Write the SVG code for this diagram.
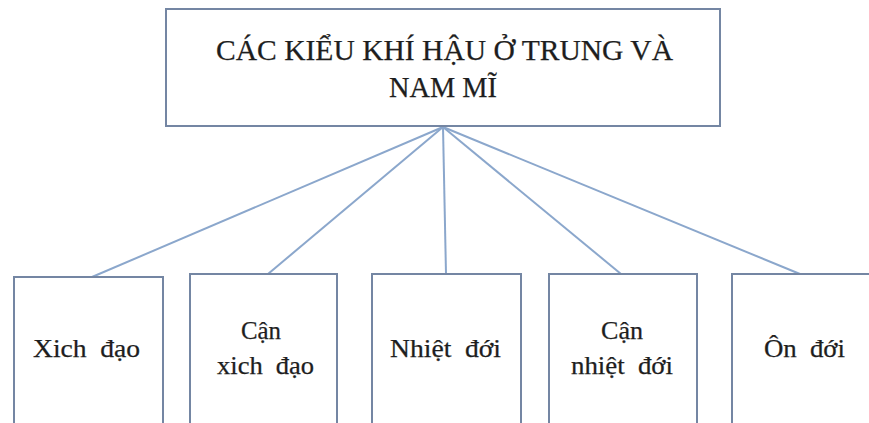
<svg xmlns="http://www.w3.org/2000/svg" width="869" height="423" viewBox="0 0 869 423">
<style>
.box{fill:#ffffff;stroke:#7486a3;stroke-width:2}
.t{font-family:"Liberation Serif","Times New Roman",serif;fill:#1e1e1e;stroke:#1e1e1e;stroke-width:0.25;text-anchor:middle}
.title{font-size:30px}
.lbl{font-size:25px;word-spacing:6px}
.conn{stroke:#8ba7cc;stroke-width:2;fill:none}
</style>
<rect width="869" height="423" fill="#ffffff"/>
<g id="connectors">
<line class="conn" x1="443" y1="127" x2="92" y2="277"/>
<line class="conn" x1="443" y1="127" x2="268" y2="274"/>
<line class="conn" x1="443" y1="127" x2="446" y2="274"/>
<line class="conn" x1="443" y1="127" x2="621" y2="274"/>
<line class="conn" x1="443" y1="127" x2="800" y2="274"/>
</g>
<g id="root">
<rect class="box" x="166" y="9" width="554" height="117"/>
<text class="t title" x="444.5" y="60" textLength="457" lengthAdjust="spacingAndGlyphs">CÁC KIỂU KHÍ HẬU Ở TRUNG VÀ</text>
<text class="t title" x="443" y="97" textLength="108" lengthAdjust="spacingAndGlyphs">NAM MĨ</text>
</g>
<g id="xich-dao">
<rect class="box" x="14" y="277" width="149" height="160"/>
<text class="t lbl" x="86.5" y="357" textLength="107" lengthAdjust="spacingAndGlyphs">Xich đạo</text>
</g>
<g id="can-xich-dao">
<rect class="box" x="190" y="274" width="147" height="160"/>
<text class="t lbl" x="261" y="339" textLength="40" lengthAdjust="spacingAndGlyphs">Cận</text>
<text class="t lbl" x="265.5" y="374" textLength="97" lengthAdjust="spacingAndGlyphs">xich đạo</text>
</g>
<g id="nhiet-doi">
<rect class="box" x="372" y="274" width="149" height="160"/>
<text class="t lbl" x="445.5" y="357" textLength="111" lengthAdjust="spacingAndGlyphs">Nhiệt đới</text>
</g>
<g id="can-nhiet-doi">
<rect class="box" x="549" y="274" width="148" height="160"/>
<text class="t lbl" x="622" y="339" textLength="42" lengthAdjust="spacingAndGlyphs">Cận</text>
<text class="t lbl" x="622" y="374" textLength="102" lengthAdjust="spacingAndGlyphs">nhiệt đới</text>
</g>
<g id="on-doi">
<rect class="box" x="732" y="274" width="150" height="160"/>
<text class="t lbl" x="804.5" y="357" textLength="81" lengthAdjust="spacingAndGlyphs">Ôn đới</text>
</g>
</svg>
